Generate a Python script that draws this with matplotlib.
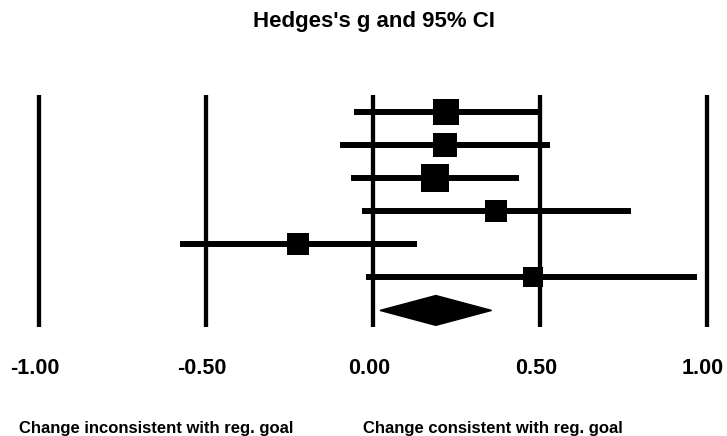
import numpy as np
import matplotlib
matplotlib.use('Agg')
import matplotlib.pyplot as plt
from matplotlib.patches import Polygon
from matplotlib.transforms import ScaledTranslation

plt.rcParams['font.family'] = ['Liberation Sans', 'DejaVu Sans']
plt.rcParams['font.weight'] = 'bold'

# study estimates (Hedges's g) with 95% CI
g_est = [0.22, 0.215, 0.185, 0.368, -0.224, 0.479]
ci_low = [-0.057, -0.10, -0.067, -0.034, -0.578, -0.022]
ci_high = [0.497, 0.53, 0.436, 0.772, 0.133, 0.969]
weights = [20.4, 18.8, 22.0, 13.3, 14.6, 10.9]  # relative weight (%)

# pooled estimate
pooled_est = 0.188
pooled_low = 0.021
pooled_high = 0.355

ticks = [-1.0, -0.5, 0.0, 0.5, 1.0]
tick_labels = ['-1.00', '-0.50', '0.00', '0.50', '1.00']


def draw(fig, ax):
    n = len(g_est)
    rows = np.arange(1, n + 1)

    ax.vlines(ticks, 0.5, n + 1.5, color='black', lw=3.1, zorder=1)
    ax.hlines(rows, ci_low, ci_high, color='black', lw=4.3, zorder=2)

    # square size ~ sqrt(weight), side in points
    side_pt = np.sqrt(weights) * 5.76 * 0.72
    for r, x, s in zip(rows, g_est, side_pt):
        ax.plot(x, r, marker='s', ms=s, color='black', mec='black', mew=0, zorder=3)

    yd = n + 1
    h = 0.45
    diamond = Polygon([(pooled_low, yd), (pooled_est, yd - h),
                       (pooled_high, yd), (pooled_est, yd + h)],
                      closed=True, facecolor='black', edgecolor='black', zorder=3)
    ax.add_patch(diamond)

    ax.set_xlim(-1.117, 1.060)
    ax.set_ylim(n + 1.5, 0.5)
    ax.set_xticks(ticks)
    ax.set_xticklabels(tick_labels, fontsize=15.5, fontweight='bold')
    ax.tick_params(axis='x', length=0, pad=22)
    shift = ScaledTranslation(-4 / 100, 0, fig.dpi_scale_trans)
    for lab in ax.get_xticklabels():
        lab.set_transform(lab.get_transform() + shift)
    ax.set_yticks([])
    for sp in ax.spines.values():
        sp.set_visible(False)


def main():
    fig = plt.figure(figsize=(7.27, 4.36), dpi=100)
    ax = fig.add_axes([0.0, 1 - 327 / 436, 1.0, 232 / 436])
    draw(fig, ax)

    fig.text(374 / 727, 1 - 22 / 436, "Hedges's g and 95% CI", ha='center', va='center',
             fontsize=16, fontweight='bold')
    fig.text(19 / 727, 1 - 421 / 436, 'Change inconsistent with reg. goal', ha='left', va='top',
             fontsize=12, fontweight='bold')
    fig.text(363 / 727, 1 - 421 / 436, 'Change consistent with reg. goal', ha='left', va='top',
             fontsize=12, fontweight='bold')

    fig.savefig('out.png', dpi=100)


if __name__ == '__main__':
    main()
